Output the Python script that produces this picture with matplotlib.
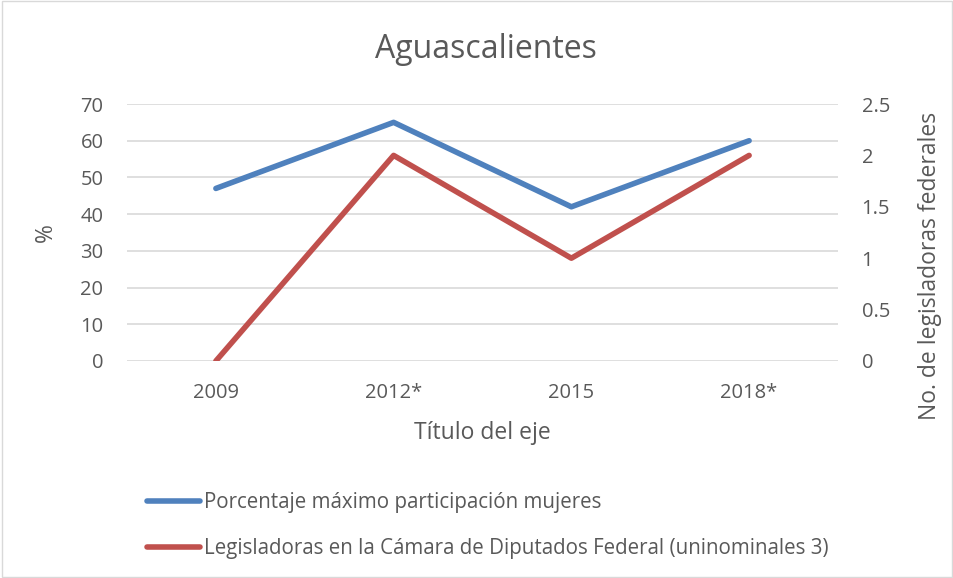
import matplotlib.pyplot as plt
from matplotlib.lines import Line2D
from matplotlib.patches import Rectangle

years = ['2009', '2012*', '2015', '2018*']
porcentaje = [47, 65, 42, 60]
legisladoras = [0, 2, 1, 2]

blue = '#4F81BD'
red = '#C0504D'
gray = '#595959'

plt.rcParams['font.family'] = ['Open Sans', 'DejaVu Sans']

fig = plt.figure(figsize=(9.54, 5.78), dpi=100)
W, H = 954, 578
ax = fig.add_axes([127 / W, 1 - 361 / H, (838 - 127) / W, (361 - 104) / H])
ax2 = ax.twinx()

x = list(range(len(years)))
ax.plot(x, porcentaje, color=blue, lw=4, solid_capstyle='round', zorder=3)
ax2.plot(x, legisladoras, color=red, lw=4, solid_capstyle='round', zorder=3)

ax.set_xlim(-0.5, len(years) - 0.5)
ax.set_ylim(0, 70)
ax.set_yticks(range(0, 71, 10))
ax2.set_ylim(0, 2.5)
ax2.set_yticks([0, 0.5, 1, 1.5, 2, 2.5])
ax2.set_yticklabels(['0', '0.5', '1', '1.5', '2', '2.5'])
ax.set_xticks(x)
ax.set_xticklabels(years)

ax.grid(axis='y', color='#D9D9D9', lw=1.2)
ax.set_axisbelow(True)
for a in (ax, ax2):
    for s in a.spines.values():
        s.set_visible(False)
    a.tick_params(length=0, labelsize=14.5, labelcolor=gray)
ax.tick_params(axis='y', pad=17)
ax.tick_params(axis='x', pad=16)
ax2.tick_params(axis='y', pad=17)

ax.set_ylabel('%', fontsize=16.5, color=gray)
ax.yaxis.set_label_coords((58 - 127) / 711, 0.5)
ax.set_xlabel('Título del eje', fontsize=16.5, color=gray, labelpad=13)
ax2.set_ylabel('No. de legisladoras federales', fontsize=16.5, color=gray)
ax2.yaxis.set_label_coords((918 - 127) / 711, (361 - 266) / 257)

fig.text(486 / W, 1 - 50 / H, 'Aguascalientes', fontsize=23, color=gray,
         ha='center', va='center')

handles = [Line2D([], [], color=blue, lw=4, solid_capstyle='round'),
           Line2D([], [], color=red, lw=4, solid_capstyle='round')]
labels = ['Porcentaje máximo participación mujeres',
          'Legisladoras en la Cámara de Diputados Federal (uninominales 3)']
fig.legend(handles, labels, loc='upper left', bbox_to_anchor=(139 / W, 1 - 484 / H),
           frameon=False, fontsize=14.8, labelcolor=gray, handlelength=2.55,
           handletextpad=0.2, labelspacing=1.2, borderaxespad=0)

fig.patches.append(Rectangle((0.002, 0.002), 0.996, 0.996, transform=fig.transFigure,
                             fill=False, edgecolor='#D9D9D9', lw=1))

fig.savefig('out.png', dpi=100)
